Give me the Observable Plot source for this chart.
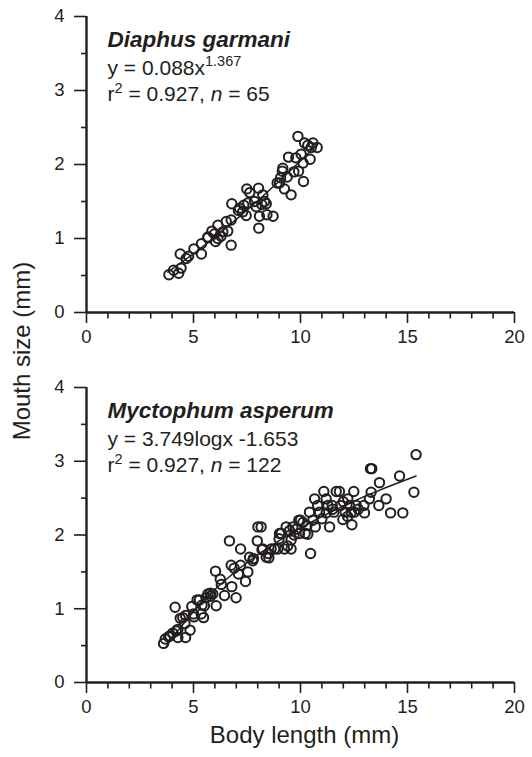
<!DOCTYPE html>
<html><head><meta charset="utf-8">
<script src="https://cdn.jsdelivr.net/npm/d3@7"></script>
<script src="https://cdn.jsdelivr.net/npm/@observablehq/plot@0.6"></script>
<style>
body{margin:0;background:#fff;}
#fig{position:relative;width:532px;height:757px;font-family:"Liberation Sans",Arial,Helvetica,sans-serif;color:#231f20;background:#fff;overflow:hidden;}
#fig svg{position:absolute;left:0;}
#ylab{position:absolute;left:22px;top:351px;transform:translate(-50%,-50%) rotate(-90deg);font-size:24px;white-space:nowrap;z-index:2;}
</style></head><body><div id="fig"><div id="ylab">Mouth size (mm)</div></div>
<script>
// ---- data ----
const xMajorTicks = [0, 5, 10, 15, 20];
const xMinorTicks = [1, 2, 3, 4, 6, 7, 8, 9, 11, 12, 13, 14, 16, 17, 18, 19];
const yMajorTicks = [0, 1, 2, 3, 4];
const yMinorTicks = [0.5, 1.5, 2.5, 3.5];

// Diaphus garmani
const dgLength = [3.85,4.07,4.31,4.42,4.38,4.66,5.02,5.37,5.37,5.67,
  5.86,6.03,6.14,5.98,6.29,6.53,6.60,6.76,6.76,6.79,
  7.10,7.35,7.46,7.49,7.63,7.54,7.85,8.04,8.08,8.05,
  8.24,8.32,8.40,8.43,8.72,8.91,9.07,9.15,9.25,9.38,
  9.44,9.56,9.69,9.78,9.88,9.91,10.14,10.12,10.19,10.34,
  10.45,10.50,10.58,10.78,9.17,7.30,6.14,6.37,7.93,5.67,
  4.77,8.19,10.03,9.02,7.15];
const dgMouth = [0.51,0.57,0.53,0.60,0.79,0.73,0.86,0.79,0.93,1.02,
  1.10,0.96,1.18,1.06,1.03,1.23,1.10,1.25,0.91,1.47,
  1.38,1.45,1.31,1.67,1.62,1.48,1.50,1.68,1.30,1.14,
  1.59,1.50,1.47,1.32,1.30,1.75,1.82,1.91,1.67,1.83,
  2.10,1.59,1.90,2.09,2.38,1.91,1.77,2.02,2.29,2.26,
  2.07,2.23,2.29,2.23,1.95,1.36,1.00,1.09,1.43,1.01,
  0.76,1.46,2.14,1.75,1.41];
const dgFitLength = [3.8, 5, 6, 7, 8, 9, 10, 10.8];
const dgFitMouth = [0.546, 0.794, 1.019, 1.258, 1.510, 1.774, 2.049, 2.276];

// Myctophum asperum
const maLength = [3.60,3.68,3.83,4.03,4.14,4.27,4.27,4.38,4.50,4.63,
  4.63,4.84,4.92,5.02,5.17,5.28,5.36,5.47,5.51,5.67,
  5.79,5.90,6.03,6.06,6.25,6.45,6.68,6.76,6.79,6.99,
  7.10,7.20,7.20,7.43,7.54,7.62,7.77,7.98,8.01,8.16,
  8.24,8.40,8.52,8.63,8.79,8.94,9.02,9.10,9.25,9.33,
  9.49,9.56,9.56,9.64,9.80,9.92,9.95,10.11,10.22,10.34,
  10.42,10.47,10.58,10.69,10.66,10.89,11.00,11.09,11.20,11.28,
  11.36,11.48,11.56,11.67,11.82,11.87,11.98,12.09,12.21,12.29,
  12.37,12.40,12.49,12.52,12.60,12.99,12.96,13.22,13.30,13.27,
  13.33,13.66,13.69,14.00,14.21,14.63,14.78,15.30,15.40,10.0,
  10.3,9.7,9.0,8.5,7.8,6.9,6.3,5.8,5.4,5.0,
  4.6,4.2,3.9,11.5,12.0,12.7,11.2,10.8,12.2,9.4,
  8.2,5.6];
const maMouth = [0.53,0.59,0.62,0.67,1.02,0.72,0.61,0.87,0.88,0.91,
  0.61,0.71,1.03,0.89,1.12,1.12,0.93,0.88,1.04,1.20,
  1.21,1.20,1.51,1.04,1.40,1.18,1.92,1.59,1.30,1.15,
  1.47,1.81,1.59,1.37,1.50,1.70,1.65,1.92,2.11,2.11,
  1.81,1.70,1.69,1.81,1.81,1.81,2.02,2.02,1.81,2.11,
  2.06,1.93,1.81,2.11,2.08,2.20,2.02,2.17,2.02,2.01,
  2.31,1.75,2.20,2.11,2.49,2.31,2.22,2.59,2.49,2.40,
  2.11,2.40,2.31,2.59,2.59,2.40,2.21,2.31,2.49,2.40,
  2.31,2.14,2.59,2.31,2.40,2.30,2.40,2.49,2.58,2.90,
  2.90,2.40,2.71,2.49,2.30,2.80,2.30,2.58,3.09,2.20,
  2.13,2.00,1.95,1.75,1.68,1.55,1.33,1.17,1.05,0.93,
  0.80,0.70,0.63,2.35,2.45,2.35,2.30,2.40,2.25,1.85,
  1.80,1.15];
const maFitLength = [3.7, 4, 5, 6, 7, 8, 9, 10, 11, 12, 13, 14, 15.4];
const maFitMouth = [0.477, 0.604, 0.967, 1.264, 1.515, 1.733, 1.924, 2.096, 2.251, 2.393, 2.523, 2.644, 2.799];

const titles = ["Diaphus garmani", "Myctophum asperum"];
const equations = ["y = 0.088x^{1.367}", "y = 3.749logx -1.653"];
const stats = ["r^{2} = 0.927, *n* = 65", "r^{2} = 0.927, *n* = 122"];
const xAxisLabel = "Body length (mm)";

// ---- drawing ----
const ink = "#231f20";
const font = "'Liberation Sans', Arial, Helvetica, sans-serif";

function richify(svg) {
  const NS = "http://www.w3.org/2000/svg";
  svg.querySelectorAll("text").forEach(t => {
    if (t.querySelector("tspan")) return;
    const s = t.textContent;
    if (!/\^\{|\*/.test(s)) return;
    while (t.firstChild) t.removeChild(t.firstChild);
    const parts = s.split(/(\^\{[^}]*\}|\*[^*]*\*)/);
    let pendingDown = 0;
    for (const p of parts) {
      if (!p) continue;
      const ts = document.createElementNS(NS, "tspan");
      if (p.startsWith("^{")) {
        ts.textContent = p.slice(2, -1);
        ts.setAttribute("font-size", "14.5");
        ts.setAttribute("dy", "-8.5");
        pendingDown = 8.5;
      } else {
        if (p.startsWith("*")) {
          ts.textContent = p.slice(1, -1);
          ts.setAttribute("font-style", "italic");
        } else ts.textContent = p;
        if (pendingDown) { ts.setAttribute("dy", String(pendingDown)); pendingDown = 0; }
      }
      t.appendChild(ts);
    }
  });
}

function panel(len, mouth, fitX, fitY, title, eq, stat, height, mTop, mBottom, withXLabel) {
  const pts = len.map((x, i) => ({x, y: mouth[i]}));
  const fit = fitX.map((x, i) => ({x, y: fitY[i]}));
  const marks = [
    Plot.axisX(xMinorTicks, {tickSize: 6.5, strokeWidth: 1.6, fill: "none"}),
    Plot.axisX(xMajorTicks, {tickSize: 11, tickPadding: 6, strokeWidth: 1.6, fontSize: 18.5, label: null, tickFormat: d => String(d)}),
    Plot.axisY(yMinorTicks, {tickSize: 5, strokeWidth: 1.6, fill: "none"}),
    Plot.axisY(yMajorTicks, {tickSize: 12, tickPadding: 10, strokeWidth: 1.6, fontSize: 18.5, label: null, tickFormat: d => String(d)}),
    Plot.ruleY([0], {strokeWidth: 2.4}),
    Plot.ruleX([0], {strokeWidth: 2.4}),
    Plot.line(fit, {x: "x", y: "y", strokeWidth: 1.5, stroke: ink}),
    Plot.dot(pts, {x: "x", y: "y", r: 4.7, strokeWidth: 2, stroke: ink, fill: "none"}),
    Plot.text([title], {frameAnchor: "top-left", dx: 21, dy: 23.1, fontSize: 22.5, fontWeight: "bold", fontStyle: "italic", textAnchor: "start", lineAnchor: "middle", fill: ink}),
    Plot.text([eq], {frameAnchor: "top-left", dx: 21, dy: 51.3, fontSize: 21, textAnchor: "start", lineAnchor: "middle", fill: ink}),
    Plot.text([stat], {frameAnchor: "top-left", dx: 21, dy: 78, fontSize: 21, textAnchor: "start", lineAnchor: "middle", fill: ink})
  ];
  if (withXLabel) {
    marks.push(Plot.text([xAxisLabel], {frameAnchor: "bottom", dx: 4, dy: 53, fontSize: 24, lineAnchor: "middle", fill: ink}));
  }
  const svg = Plot.plot({
    width: 532, height,
    marginLeft: 86, marginRight: 18, marginTop: mTop, marginBottom: mBottom,
    style: {fontFamily: font, color: ink, background: "transparent", overflow: "visible"},
    x: {domain: [0, 20]},
    y: {domain: [0, 4]},
    marks
  });
  richify(svg);
  return svg;
}

const fig = document.getElementById("fig");
const top1 = panel(dgLength, dgMouth, dgFitLength, dgFitMouth, titles[0], equations[0], stats[0], 350, 16, 38, false);
top1.style.top = "0px";
fig.appendChild(top1);
const bot = panel(maLength, maMouth, maFitLength, maFitMouth, titles[1], equations[1], stats[1], 407, 37, 75, true);
bot.style.top = "350px";
fig.appendChild(bot);
</script>
</body></html>
